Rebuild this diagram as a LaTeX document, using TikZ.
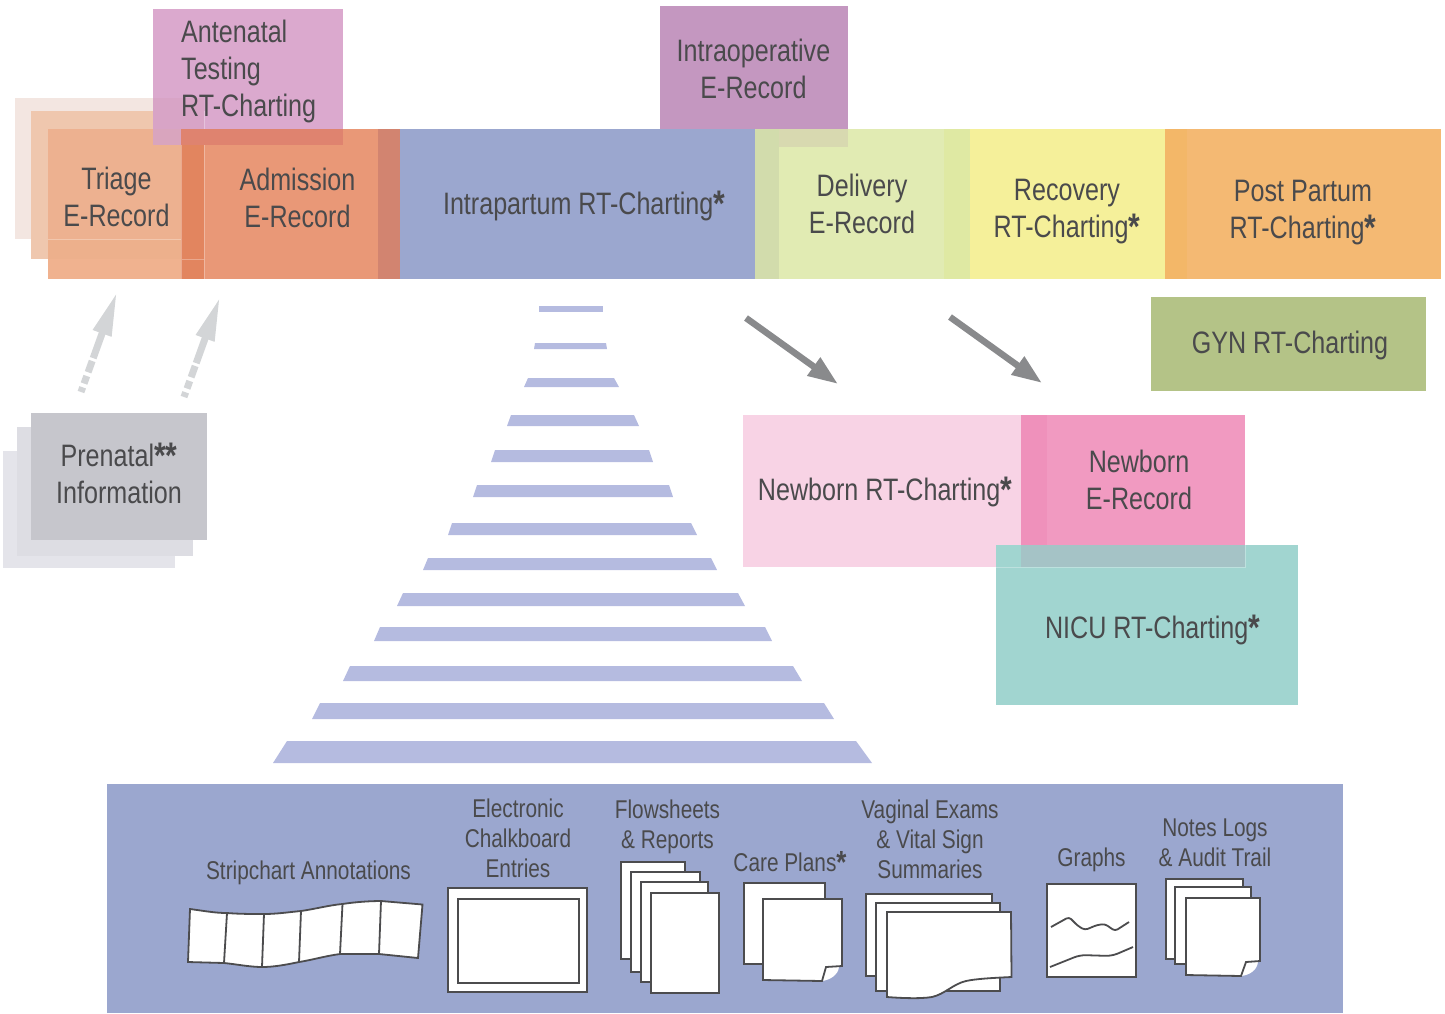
\documentclass[tikz,border=0pt]{standalone}
\usepackage{fontspec}
\setmainfont[FakeStretch=0.81]{Liberation Sans}
\usetikzlibrary{arrows.meta}
\definecolor{txt}{HTML}{4A4A4C}
\definecolor{ink}{HTML}{4C4C4E}
\definecolor{panel}{HTML}{9BA7CF}
\definecolor{rung}{HTML}{B5BBE0}
\definecolor{arrowdark}{HTML}{898A8C}
\definecolor{arrowlight}{HTML}{D3D5D7}
\tikzset{
  big/.style={text=txt,align=center,inner sep=0pt,font=\fontsize{31}{37}\selectfont},
  small/.style={text=txt,align=center,inner sep=0pt,font=\fontsize{25.7}{30}\selectfont},
  sheet/.style={draw=ink,fill=white,line width=1.8pt,line join=miter},
  faint/.style={draw=white,opacity=.3,line width=.8pt},
  darrow/.style={draw=arrowdark,line width=6.5pt,-{Triangle[length=30pt,width=21pt]}},
  larrow/.style={draw=arrowlight,line width=7pt,dash pattern=on 5pt off 4pt on 8pt off 4pt on 12pt off 3pt on 90pt,-{Triangle[length=44pt,width=18pt]}},
}
\newcommand{\rb}[5]{\fill[fill=#1] (#2,#3) rectangle (#4,#5);}
\newcommand{\rung}[6]{\fill[rung] (#1,#2)--(#3,#2)--(#6,#5)--(#4,#5)--cycle;}
\newcommand{\stB}{\raisebox{-2pt}{\fontsize{37}{37}\selectfont\bfseries *}}
\newcommand{\stS}{\raisebox{-2pt}{\fontsize{32}{32}\selectfont\bfseries *}}
\begin{document}
\begin{tikzpicture}[x=1pt,y=-1pt]
\useasboundingbox (0,0) rectangle (1445,1013);
% triage stack
\definecolor{c}{HTML}{F3E6E1}\rb{c}{15}{98}{181}{239}
\definecolor{c}{HTML}{EFC7AE}\rb{c}{31}{111}{204}{259}
\definecolor{c}{HTML}{EDB190}\rb{c}{48}{129}{181}{239}
\definecolor{c}{HTML}{EDB08C}\rb{c}{48}{239}{181}{259}
\definecolor{c}{HTML}{F0B28F}\rb{c}{48}{259}{181}{279}
% antenatal
\definecolor{c}{HTML}{DBA9CE}\rb{c}{153}{9}{343}{145}
\definecolor{c}{HTML}{D8A4C6}\rb{c}{153}{98}{204}{129}
\definecolor{c}{HTML}{D9A5BE}\rb{c}{153}{129}{181}{145}
% admission
\definecolor{c}{HTML}{E99877}\rb{c}{181}{129}{400}{279}
\definecolor{c}{HTML}{E2855F}\rb{c}{181}{145}{204}{279}
\definecolor{c}{HTML}{DF836F}\rb{c}{181}{129}{343}{145}
\definecolor{c}{HTML}{D28470}\rb{c}{378}{129}{400}{279}
\draw[faint] (48,239)--(181,239) (181,145)--(181,279) (204,111)--(204,129) (181,259)--(204,259) (204,145)--(204,279);
% main band
\rb{panel}{400}{129}{755}{279}
\definecolor{c}{HTML}{C497C0}\rb{c}{660}{6}{848}{129}
\definecolor{c}{HTML}{E1EBB3}\rb{c}{755}{129}{970}{279}
\definecolor{c}{HTML}{D2DCAC}\rb{c}{755}{129}{779}{279}
\definecolor{c}{HTML}{D8D9B0}\rb{c}{779}{129}{848}{147}
\definecolor{c}{HTML}{DFE9A3}\rb{c}{944}{129}{970}{279}
\definecolor{c}{HTML}{F5F09A}\rb{c}{970}{129}{1165}{279}
\definecolor{c}{HTML}{F4B973}\rb{c}{1165}{129}{1441}{279}
\definecolor{c}{HTML}{F3B768}\rb{c}{1165}{129}{1187}{279}
\definecolor{c}{HTML}{B4C387}\rb{c}{1151}{297}{1426}{391}
% newborn
\definecolor{c}{HTML}{F8D3E5}\rb{c}{743}{415}{1021}{567}
\definecolor{c}{HTML}{F19AC1}\rb{c}{1021}{415}{1245}{545}
\definecolor{c}{HTML}{EF91BB}\rb{c}{1021}{415}{1047}{545}
\definecolor{c}{HTML}{A1D5D0}\rb{c}{996}{545}{1298}{705}
\definecolor{c}{HTML}{A5C3C6}\rb{c}{1021}{545}{1245}{567}
\draw[faint] (996,567)--(1245,567)--(1245,545);
% prenatal
\definecolor{c}{HTML}{E4E4EA}\rb{c}{3}{451}{175}{568}
\definecolor{c}{HTML}{DDDDE3}\rb{c}{17}{427}{193}{556}
\definecolor{c}{HTML}{C6C6CC}\rb{c}{31}{413}{207}{540}
% labels
\node[big,align=left,anchor=north west] (ante) at (181,20) {Antenatal\\Testing\\RT-Charting};
\node[big] (triage) at (116.5,196.7) {Triage\\E-Record};
\node[big] (adm) at (297.5,197.7) {Admission\\E-Record};
\node[big] (intra) at (584,205.7) {Intrapartum RT-Charting\stB};
\node[big] (iop) at (753.5,69) {Intraoperative\\E-Record};
\node[big] (del) at (862,204) {Delivery\\E-Record};
\node[big] (rec) at (1067,211.5) {Recovery\\RT-Charting\stB};
\node[big] (pp) at (1303,212.5) {Post Partum\\RT-Charting\stB};
\node[big] (gyn) at (1290,345.5) {GYN RT-Charting};
\node[big] (nbrt) at (885,492) {Newborn RT-Charting\stB};
\node[big] (nbe) at (1139,480) {Newborn\\E-Record};
\node[big] (nicu) at (1152.5,630) {NICU RT-Charting\stB};
\node[big] (pre) at (119,473.2) {Prenatal\stB\stB\\Information};
% arrows
\coordinate (a1s) at (81,392); \coordinate (a1e) at (117,292);
\coordinate (a2s) at (184,397); \coordinate (a2e) at (220,297);
\draw[larrow] (a1s)--(a1e);
\draw[larrow] (a2s)--(a2e);
\coordinate (b1s) at (746,318); \coordinate (b1e) at (838,384);
\coordinate (b2s) at (950,317); \coordinate (b2e) at (1042,383);
\draw[darrow] (b1s)--(b1e);
\draw[darrow] (b2s)--(b2e);
% ladder
\rung{539}{306}{603}{539}{312}{603}
\rung{535}{343}{606}{534}{349}{607}
\rung{528}{378}{614}{524}{387}{619}
\rung{511}{415}{634}{507}{426}{639}
\rung{495}{450}{649}{491}{462}{653}
\rung{477}{485}{669}{473}{497}{673}
\rung{452}{523}{691}{448}{535}{697}
\rung{428}{558}{711}{423}{570}{717}
\rung{403}{593}{738}{397}{606}{745}
\rung{380}{627}{765}{374}{641}{772}
\rung{350}{666}{793}{343}{681}{802}
\rung{320}{703}{824}{312}{719}{834}
\rung{287}{741}{856}{273}{763}{872}
% panel
\rb{panel}{107}{784}{1343}{1013}
\node[small] (strip) at (308.5,873) {Stripchart Annotations};
\node[small] (chalk) at (518,838) {Electronic\\Chalkboard\\Entries};
\node[small] (flow) at (667.5,826.5) {Flowsheets\\\& Reports};
\node[small] (care) at (790,862) {Care Plans\stS};
\node[small] (vag) at (930,839) {Vaginal Exams\\\& Vital Sign\\Summaries};
\node[small] (graphs) at (1091.5,860) {Graphs};
\node[small] (notes) at (1215,843) {Notes Logs\\\& Audit Trail};
% stripchart
\draw[sheet] (190,909) .. controls (205,911) and (215,913) .. (227,913) .. controls (240,914) and (252,914) .. (264,914) .. controls (277,914) and (290,912) .. (301,911) .. controls (315,909) and (330,905) .. (342.5,904) .. controls (355,902) and (370,901) .. (381,901) -- (422.5,904.5) -- (418,958) -- (379,954) .. controls (365,954) and (352,954) .. (340,954) .. controls (325,956) and (312,960) .. (299,962) .. controls (285,965) and (273,967) .. (262,967) .. controls (250,967) and (235,964) .. (224,963) -- (188,962) -- cycle;
\draw[sheet] (227,913)--(224,963) (264,914)--(262,967) (301,911)--(299,962) (342.5,904)--(340,954) (381,901)--(379,954);
% chalkboard
\draw[sheet] (448,888) rectangle (587,992);
\draw[sheet] (458,899) rectangle (579,983);
% flowsheets
\draw[sheet] (621,862) rectangle (685,959);
\draw[sheet] (631,872) rectangle (700,972);
\draw[sheet] (641,882) rectangle (708,982);
\draw[sheet] (651,893) rectangle (719,993);
% care plans
\draw[sheet] (744,883) rectangle (825,964);
\fill[white] (826,967) -- (839,967) .. controls (838,975) and (830,980) .. (822,981) -- cycle;
\draw[sheet] (763,899) -- (842,899) -- (842,966) -- (826,967) -- (822,981) -- (763,980) -- cycle;
% vaginal
\draw[sheet] (866,894) rectangle (992,976);
\draw[sheet] (876,903) rectangle (1000,991);
\draw[sheet] (887,912) -- (1011,912) -- (1011.5,977) .. controls (990,978) and (975,979) .. (966,981) .. controls (953,984) and (945,994) .. (932,997) .. controls (920,999) and (900,998) .. (887,997) -- cycle;
% graph
\draw[sheet] (1047,884) rectangle (1136,977);
\draw[ink,line width=1.8pt,rounded corners=3pt] (1051,927)--(1069,917)--(1078,926)--(1085,930)--(1097,925)--(1105,924)--(1115,931)--(1129,922);
\draw[ink,line width=1.8pt,rounded corners=6pt] (1050,967)--(1080,955)--(1112,956)--(1133,947);
% notes
\draw[sheet] (1166,879) rectangle (1243,959);
\draw[sheet] (1175,887) rectangle (1251,964);
\fill[white] (1246,962) -- (1258,962) .. controls (1257,970) and (1250,975) .. (1241,976) -- cycle;
\draw[sheet] (1186,898) -- (1260,898) -- (1260,961) -- (1246,962) -- (1241,976) -- (1186,975) -- cycle;
\end{tikzpicture}
\end{document}
